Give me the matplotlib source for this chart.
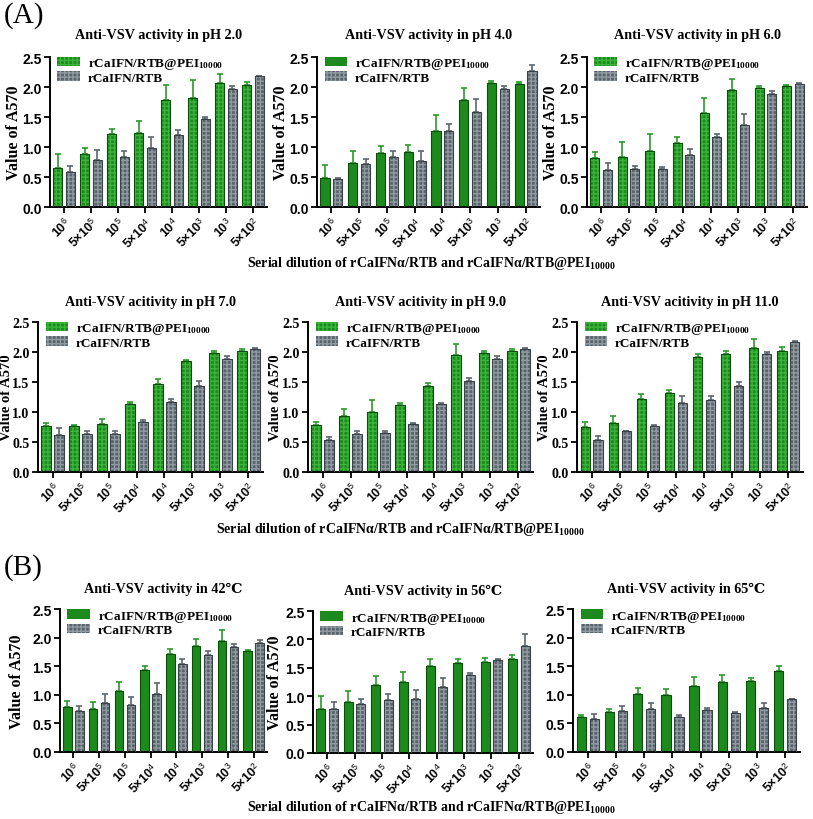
import numpy as np
import matplotlib
matplotlib.use("Agg")
import matplotlib.pyplot as plt
from matplotlib.transforms import Bbox

plt.rcParams['mathtext.fontset'] = 'custom'
plt.rcParams['mathtext.rm'] = 'Liberation Serif:bold'
plt.rcParams['mathtext.it'] = 'Liberation Serif:bold'
plt.rcParams['mathtext.bf'] = 'Liberation Serif:bold'
plt.rcParams['mathtext.sf'] = 'Liberation Sans'

# x categories (serial dilutions)
dilutions = ['10$^{\\mathsf{6}}$', '5×10$^{\\mathsf{5}}$', '10$^{\\mathsf{5}}$',
             '5×10$^{\\mathsf{4}}$', '10$^{\\mathsf{4}}$', '5×10$^{\\mathsf{3}}$',
             '10$^{\\mathsf{3}}$', '5×10$^{\\mathsf{2}}$']

titles = ['Anti-VSV activity in pH 2.0', 'Anti-VSV activity in pH 4.0',
          'Anti-VSV activity in pH 6.0', 'Anti-VSV acitivity in pH 7.0',
          'Anti-VSV acitivity in pH 9.0', 'Anti-VSV acitivity in pH 11.0',
          'Anti-VSV activity in 42℃', 'Anti-VSV activity in 56℃',
          'Anti-VSV activity in 65℃']

# rCaIFN/RTB@PEI10000 (mean and upper error)
pei_mean = [
    [0.65, 0.89, 1.21, 1.23, 1.79, 1.81, 2.07, 2.03],
    [0.49, 0.73, 0.90, 0.91, 1.27, 1.79, 2.06, 2.05],
    [0.82, 0.84, 0.93, 1.07, 1.57, 1.95, 1.98, 2.02],
    [0.76, 0.76, 0.80, 1.14, 1.47, 1.85, 1.98, 2.02],
    [0.79, 0.93, 1.00, 1.11, 1.43, 1.95, 1.98, 2.02],
    [0.75, 0.81, 1.21, 1.32, 1.91, 1.96, 2.06, 2.02],
    [0.78, 0.75, 1.07, 1.43, 1.72, 1.85, 1.94, 1.76],
    [0.78, 0.89, 1.20, 1.25, 1.54, 1.58, 1.61, 1.66],
    [0.62, 0.70, 1.01, 0.99, 1.15, 1.22, 1.24, 1.42],
]
pei_err = [
    [0.23, 0.10, 0.09, 0.20, 0.25, 0.30, 0.14, 0.05],
    [0.21, 0.20, 0.12, 0.12, 0.26, 0.19, 0.04, 0.03],
    [0.10, 0.24, 0.28, 0.09, 0.24, 0.19, 0.03, 0.01],
    [0.06, 0.02, 0.09, 0.03, 0.08, 0.02, 0.04, 0.03],
    [0.05, 0.12, 0.20, 0.04, 0.05, 0.19, 0.04, 0.03],
    [0.09, 0.13, 0.09, 0.04, 0.05, 0.05, 0.15, 0.06],
    [0.12, 0.12, 0.15, 0.08, 0.08, 0.12, 0.19, 0.03],
    [0.22, 0.21, 0.16, 0.17, 0.11, 0.07, 0.06, 0.06],
    [0.02, 0.05, 0.11, 0.12, 0.16, 0.13, 0.05, 0.08],
]

# rCaIFN/RTB
rtb_mean = [
    [0.58, 0.78, 0.83, 0.99, 1.20, 1.46, 1.96, 2.18],
    [0.47, 0.71, 0.83, 0.77, 1.27, 1.58, 1.96, 2.27],
    [0.61, 0.64, 0.64, 0.86, 1.17, 1.37, 1.89, 2.05],
    [0.61, 0.64, 0.64, 0.83, 1.17, 1.43, 1.89, 2.05],
    [0.54, 0.64, 0.65, 0.80, 1.14, 1.51, 1.89, 2.05],
    [0.54, 0.68, 0.76, 1.15, 1.20, 1.44, 1.96, 2.17],
    [0.72, 0.86, 0.83, 1.02, 1.54, 1.70, 1.84, 1.90],
    [0.78, 0.86, 0.94, 0.95, 1.16, 1.37, 1.64, 1.89],
    [0.58, 0.71, 0.76, 0.61, 0.74, 0.68, 0.77, 0.92],
]
rtb_err = [
    [0.10, 0.17, 0.10, 0.18, 0.08, 0.04, 0.05, 0.01],
    [0.01, 0.09, 0.10, 0.16, 0.11, 0.22, 0.05, 0.09],
    [0.13, 0.05, 0.03, 0.10, 0.05, 0.18, 0.05, 0.01],
    [0.13, 0.05, 0.04, 0.04, 0.05, 0.08, 0.05, 0.01],
    [0.04, 0.05, 0.03, 0.02, 0.01, 0.06, 0.05, 0.01],
    [0.06, 0.01, 0.03, 0.12, 0.07, 0.06, 0.04, 0.02],
    [0.08, 0.15, 0.14, 0.18, 0.08, 0.06, 0.05, 0.05],
    [0.12, 0.09, 0.10, 0.16, 0.16, 0.04, 0.01, 0.20],
    [0.09, 0.09, 0.10, 0.04, 0.03, 0.02, 0.08, 0.01],
]

# which panels have checkered green bars
pei_hatched = [True, False, True, True, True, True, False, False, False]

# axes boxes in pixels: left, right, top, bottom, ylabel offset
W, H = 813, 820
boxes = [
    (50, 267, 58, 208, 28), (317, 540, 58, 208, 28), (587, 807, 58, 208, 28),
    (38, 263, 323, 473, 25), (308, 533, 323, 473, 26), (577, 803, 323, 473, 26),
    (60, 267, 610, 753, 35), (313, 533, 612, 754, 30), (573, 800, 610, 753, 30),
]

green, green_edge, green_hatch, green_err = '#1d8a1d', '#0b4d0b', '#3cb43c', '#2a9a2a'
gray, gray_edge, gray_hatch, gray_err = '#59636b', '#3a4248', '#909aa1', '#5c666e'

serif = ['Liberation Serif', 'DejaVu Serif']
sans = ['Liberation Sans', 'DejaVu Sans']

fig = plt.figure(figsize=(W / 100, H / 100), dpi=100)
x = np.arange(len(dilutions))
bw = 0.33
off = 0.23

for i in range(9):
    l, r, t, b, yl = boxes[i]
    ax = fig.add_axes([l / W, 1 - b / H, (r - l) / W, (b - t) / H])

    h1 = ax.bar(x - off, pei_mean[i], bw, color=green, edgecolor=green_hatch,
                hatch='++++' if pei_hatched[i] else None, linewidth=0, zorder=2)
    ax.bar(x - off, pei_mean[i], bw, fill=False, edgecolor=green_edge, linewidth=0.8, zorder=3)
    h2 = ax.bar(x + off, rtb_mean[i], bw, color=gray, edgecolor=gray_hatch,
                hatch='++++', linewidth=0, zorder=2)
    ax.bar(x + off, rtb_mean[i], bw, fill=False, edgecolor=gray_edge, linewidth=0.8, zorder=3)

    ax.errorbar(x - off, pei_mean[i], yerr=[np.zeros(8), pei_err[i]], fmt='none',
                ecolor=green_err, elinewidth=1.2, capsize=2.5, capthick=1.2, zorder=1)
    ax.errorbar(x + off, rtb_mean[i], yerr=[np.zeros(8), rtb_err[i]], fmt='none',
                ecolor=gray_err, elinewidth=1.2, capsize=2.5, capthick=1.2, zorder=1)

    ax.set_xlim(-0.52, 7.52)
    ax.set_ylim(0, 2.5)
    ax.set_yticks([0, 0.5, 1.0, 1.5, 2.0, 2.5])
    # the middle row uses serif numbers on the y axis
    mid = 3 <= i <= 5
    ax.set_yticklabels(['0.0', '0.5', '1.0', '1.5', '2.0', '2.5'],
                       family=serif if mid else sans, fontweight='bold', fontsize=10)
    ax.set_xticks(x)
    ax.set_xticklabels(dilutions, rotation=45, ha='right', rotation_mode='anchor',
                       family=sans, fontweight='bold', fontsize=9)
    ax.tick_params(direction='out', length=4, width=1.3, pad=2)
    for s in ['top', 'right']:
        ax.spines[s].set_visible(False)
    for s in ['left', 'bottom']:
        ax.spines[s].set_linewidth(1.4)

    ax.set_ylabel('Value of A570', family=serif, fontweight='bold',
                  fontsize=10.5 if mid else 11.5)
    ax.yaxis.set_label_coords(-yl / (r - l), 0.5)
    if i == 8:
        # only a sliver of this label shows next to the 56℃ panel
        ax.yaxis.label.set_clip_box(Bbox([[541, 0], [W, H]]))
        ax.yaxis.label.set_clip_on(True)
    ax.set_title(titles[i], family=serif, fontweight='bold', fontsize=10.2,
                 pad=14 if i < 3 else 12)

    ax.legend([h1, h2], ['rCaIFN/RTB@PEI$_{10000}$', 'rCaIFN/RTB'],
              loc='upper left', bbox_to_anchor=(0.01, 1.04), frameon=False,
              borderaxespad=0, handlelength=1.7, handleheight=0.7,
              handletextpad=0.6, labelspacing=0.0,
              prop={'family': serif, 'weight': 'bold', 'size': 9.5})

xlab = 'Serial dilution of rCaIFNα/RTB and rCaIFNα/RTB@PEI$_{10000}$'
for xc, yc in [(431, 264), (400, 529), (431, 808)]:
    fig.text(xc / W, 1 - yc / H, xlab, ha='center', va='center',
             family=serif, fontweight='bold', fontsize=10)

fig.text(4 / W, 1 - 16 / H, '(A)', ha='left', va='center', family=serif, fontsize=21)
fig.text(4 / W, 1 - 568 / H, '(B)', ha='left', va='center', family=serif, fontsize=21)

fig.savefig('out.png', dpi=100)
